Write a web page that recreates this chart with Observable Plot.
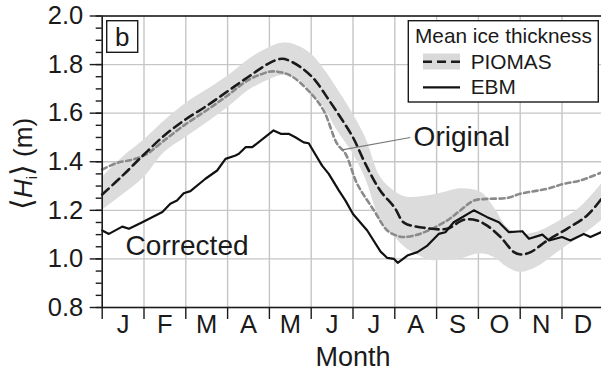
<!DOCTYPE html>
<html>
<head>
<meta charset="utf-8">
<script src="https://cdn.jsdelivr.net/npm/d3@7"></script>
<script src="https://cdn.jsdelivr.net/npm/@observablehq/plot@0.6"></script>
<style>
  html, body { margin: 0; padding: 0; background: #fff; }
  #chart { width: 601px; height: 375px; overflow: hidden; }
</style>
</head>
<body>
<div id="chart"></div>
<script>
// ---- tick labels / categories ----
const months = ["J","F","M","A","M","J","J","A","S","O","N","D"];
const majorTicks = [0.8, 1.0, 1.2, 1.4, 1.6, 1.8, 2.0];
const minorTicks = d3.range(16, 41).map(k => k / 20);
const monthBounds = d3.range(0, 13);
const monthMids = d3.range(0, 12).map(k => k + 0.5);
const gridMonths = d3.range(1, 12);
const gridH = [1.0, 1.2, 1.4, 1.6, 1.8];

// ---- PIOMAS mean ice thickness (month position, m) ----
const piomasM = [0,0.5,1,1.5,2,2.5,3,3.5,4,4.3,4.55,4.85,5.1,5.4,5.7,6,6.3,6.65,7,7.18,7.3,7.7,8.25,8.65,8.97,9.21,9.53,9.85,10.02,10.25,10.65,11.12,11.6,12];
const piomasH = [1.265,1.345,1.43,1.51,1.575,1.63,1.69,1.75,1.806,1.824,1.81,1.776,1.734,1.66,1.583,1.50,1.39,1.282,1.21,1.155,1.142,1.128,1.124,1.161,1.158,1.137,1.09,1.028,1.018,1.028,1.076,1.124,1.179,1.26];

// ---- PIOMAS spread (shaded band) ----
const bandM  = [0,0.5,1,1.5,2,2.5,3,3.5,4,4.3,4.6,5,5.3,5.6,6,6.3,6.66,7,7.3,7.85,8.1,8.57,9.05,9.37,9.69,10.0,10.4,10.96,11.44,12];
const bandHi = [1.335,1.42,1.49,1.57,1.64,1.695,1.752,1.82,1.87,1.888,1.883,1.844,1.783,1.707,1.597,1.50,1.336,1.278,1.254,1.261,1.27,1.289,1.275,1.213,1.13,1.103,1.11,1.158,1.213,1.32];
const bandLo = [1.20,1.265,1.335,1.44,1.50,1.56,1.622,1.693,1.738,1.755,1.75,1.688,1.625,1.535,1.433,1.33,1.16,1.09,1.04,0.995,0.994,1.0,1.021,1.007,0.966,0.945,0.966,1.035,1.09,1.165];

// ---- EBM original (gray dashed) ----
const origM = [0,0.35,0.75,1.05,1.5,2,2.5,3,3.47,3.8,4.07,4.5,5.0,5.3,5.62,5.82,6.1,6.5,6.82,7.06,7.22,7.6,8.25,8.57,8.89,9.21,9.69,10.0,10.65,11.04,11.44,12];
const origH = [1.368,1.395,1.41,1.43,1.49,1.555,1.612,1.673,1.734,1.76,1.772,1.755,1.68,1.61,1.474,1.433,1.309,1.2,1.117,1.095,1.09,1.103,1.158,1.2,1.24,1.247,1.251,1.268,1.289,1.309,1.323,1.36];

// ---- EBM corrected (black solid) ----
const ebmM = [0,0.16,0.48,0.64,0.96,1.44,1.63,1.79,1.95,2.11,2.47,2.75,2.95,3.19,3.27,3.43,3.59,4.1,4.27,4.46,4.62,4.82,4.94,5.26,5.42,5.66,5.82,6.0,6.34,6.66,6.82,6.98,7.07,7.3,7.54,7.78,8.05,8.21,8.41,8.89,9.21,9.49,9.73,10.05,10.21,10.53,10.69,11.0,11.2,11.52,11.68,12];
const ebmH = [1.117,1.103,1.133,1.124,1.151,1.193,1.227,1.24,1.27,1.279,1.33,1.364,1.412,1.426,1.433,1.46,1.46,1.529,1.515,1.515,1.501,1.48,1.476,1.384,1.35,1.282,1.24,1.185,1.117,1.03,1.004,1.0,0.984,1.014,1.028,1.055,1.103,1.11,1.151,1.2,1.172,1.151,1.11,1.114,1.083,1.1,1.076,1.09,1.076,1.103,1.09,1.115];

// ---- annotations ----
const noteText = ["Corrected", "Original"];
const noteM = [0.56, 7.45];
const noteH = [1.053, 1.50];
const pointerM = [5.74, 7.37];
const pointerH = [1.449, 1.50];

const piomas = piomasM.map((m, i) => ({m, h: piomasH[i]}));
const band = bandM.map((m, i) => ({m, lo: bandLo[i], hi: bandHi[i]}));
const original = origM.map((m, i) => ({m, h: origH[i]}));
const ebm = ebmM.map((m, i) => ({m, h: ebmH[i]}));
const notes = noteText.map((t, i) => ({t, m: noteM[i], h: noteH[i]}));
const pointer = [{x1: pointerM[0], y1: pointerH[0], x2: pointerM[1], y2: pointerH[1]}];

const font = "'Liberation Sans', Arial, Helvetica, sans-serif";
const ink = "#1a1a1a";

const chart = Plot.plot({
  width: 601,
  height: 375,
  marginLeft: 101.7,
  marginRight: -2.3,
  marginTop: 15.5,
  marginBottom: 68,
  x: {domain: [0, 12]},
  y: {domain: [0.8, 2.0]},
  style: {fontFamily: font, fontSize: "25px", color: ink, background: "#fff"},
  marks: [
    Plot.ruleX(gridMonths, {stroke: "#c6c6c6", strokeWidth: 1.4}),
    Plot.ruleY(gridH, {stroke: "#c6c6c6", strokeWidth: 1.4}),
    Plot.areaY(band, {x: "m", y1: "lo", y2: "hi", fill: "#dcdcdc", curve: "catmull-rom"}),
    Plot.line(original, {x: "m", y: "h", stroke: "#8a8a8a", strokeWidth: 2.6, strokeDasharray: "5,3.5", curve: "catmull-rom"}),
    Plot.line(piomas, {x: "m", y: "h", stroke: ink, strokeWidth: 2.6, strokeDasharray: "9,5", curve: "catmull-rom"}),
    Plot.line(ebm, {x: "m", y: "h", stroke: "#111", strokeWidth: 2.2}),
    Plot.link(pointer, {x1: "x1", y1: "y1", x2: "x2", y2: "y2", stroke: "#777", strokeWidth: 1.1}),
    Plot.text(notes, {x: "m", y: "h", text: "t", textAnchor: "start", lineAnchor: "middle", fontSize: 28, fill: ink}),
    Plot.axisY({ticks: minorTicks, tickSize: 6, tickFormat: () => "", label: null, strokeWidth: 1.4}),
    Plot.axisY({ticks: majorTicks, tickSize: 12, tickFormat: () => "", label: null, strokeWidth: 1.4}),
    Plot.text(majorTicks, {y: d => d, frameAnchor: "left", textAnchor: "end", lineAnchor: "middle", dx: -19, text: d => d.toFixed(1), fontSize: 25.5, fill: ink}),
    Plot.axisX({ticks: monthBounds, tickSize: 12, tickFormat: () => "", label: null, strokeWidth: 1.4}),
    Plot.axisX({ticks: monthMids, tickSize: 0, tickPadding: 7, tickFormat: d => months[Math.floor(d)], label: null, fontSize: 25.5}),
    Plot.text(["Month"], {frameAnchor: "bottom", lineAnchor: "top", dy: 39, fontSize: 27, fill: ink}),
    Plot.frame({stroke: ink, strokeWidth: 1.6})
  ]
});

document.getElementById("chart").appendChild(chart);

// ---- panel label, legend, y-axis title (real SVG text) ----
const svg = d3.select(chart);
const g = svg.append("g").attr("font-family", font).attr("fill", ink).attr("text-anchor", "start");

// panel "b"
g.append("rect").attr("x", 106.7).attr("y", 20.7).attr("width", 31).attr("height", 31.6)
  .attr("fill", "#fff").attr("stroke", ink).attr("stroke-width", 1.4);
g.append("text").attr("x", 122.2).attr("y", 46.3).attr("text-anchor", "middle")
  .attr("font-size", 26).text("b");

// legend
const lg = g.append("g");
lg.append("rect").attr("x", 408.3).attr("y", 20.7).attr("width", 190).attr("height", 81.3)
  .attr("fill", "#fff").attr("stroke", ink).attr("stroke-width", 1.4);
lg.append("text").attr("x", 415).attr("y", 42.7).attr("font-size", 20.8).text("Mean ice thickness");
lg.append("rect").attr("x", 423).attr("y", 53.5).attr("width", 37).attr("height", 16).attr("fill", "#d9d9d9");
lg.append("line").attr("x1", 423).attr("x2", 460).attr("y1", 61.7).attr("y2", 61.7)
  .attr("stroke", ink).attr("stroke-width", 2.6).attr("stroke-dasharray", "9,5");
lg.append("text").attr("x", 470.7).attr("y", 68.5).attr("font-size", 20.8).text("PIOMAS");
lg.append("line").attr("x1", 423).attr("x2", 460).attr("y1", 87.3).attr("y2", 87.3)
  .attr("stroke", "#111").attr("stroke-width", 2.2);
lg.append("text").attr("x", 470.7).attr("y", 93.5).attr("font-size", 20.8).text("EBM");

// y-axis title ⟨H_i⟩ (m)
const yl = g.append("text").attr("transform", "translate(32,164) rotate(-90)")
  .attr("text-anchor", "middle").attr("font-size", 26);
yl.append("tspan").attr("font-family", "'DejaVu Sans', sans-serif").attr("font-size", 30).attr("font-weight", 200).text("⟨");
yl.append("tspan").attr("font-style", "italic").text("H");
yl.append("tspan").attr("font-size", 14).attr("dy", 5).text("i");
yl.append("tspan").attr("dy", -5).attr("font-family", "'DejaVu Sans', sans-serif").attr("font-size", 30).attr("font-weight", 200).text("⟩");
yl.append("tspan").text(" (m)");
</script>
</body>
</html>
